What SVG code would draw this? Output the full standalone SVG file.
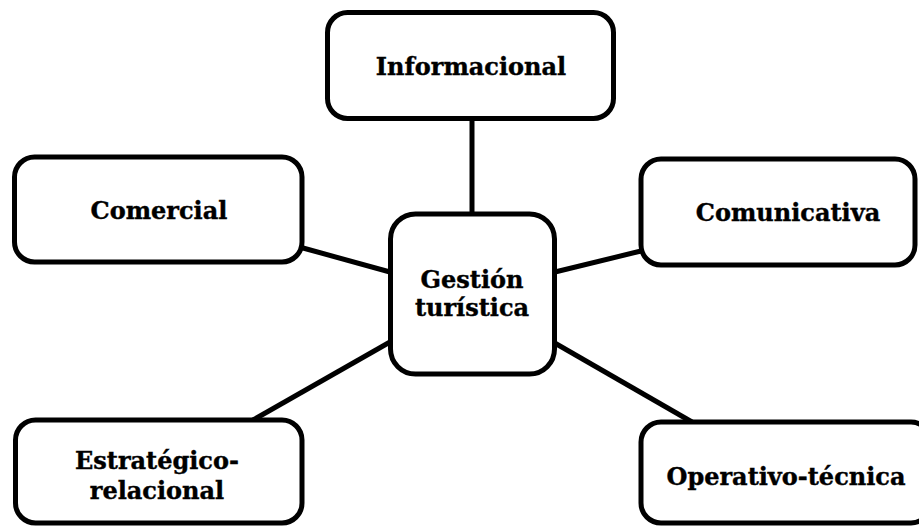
<svg xmlns="http://www.w3.org/2000/svg" width="919" height="527" viewBox="0 0 919 527">
<style>
.box{fill:#fff;stroke:#000;stroke-width:5}
.ln{stroke:#000;stroke-width:5;fill:none}
text{font-family:"DejaVu Serif","Liberation Serif",serif;font-weight:bold;font-size:24px;fill:#000;stroke:#000;stroke-width:0.4;text-anchor:middle}
</style>
<rect width="919" height="527" fill="#fff"/>
<g id="connectors">
<line class="ln" x1="472" y1="118" x2="472" y2="214"/>
<line class="ln" x1="303" y1="248" x2="390" y2="272"/>
<line class="ln" x1="555" y1="272" x2="641" y2="251"/>
<line class="ln" x1="390" y1="342" x2="253" y2="420"/>
<line class="ln" x1="553" y1="342" x2="692" y2="422"/>
</g>
<g id="informacional">
<rect class="box" x="327.5" y="12.5" width="286" height="106" rx="20"/>
<text x="471" y="75">Informacional</text>
</g>
<g id="comercial">
<rect class="box" x="14.5" y="157" width="287.5" height="105" rx="20"/>
<text x="159" y="219">Comercial</text>
</g>
<g id="comunicativa">
<rect class="box" x="641" y="159" width="274" height="106" rx="20"/>
<text x="788" y="221">Comunicativa</text>
</g>
<g id="gestion">
<rect class="box" x="390.5" y="214" width="164" height="160" rx="25"/>
<text x="472" y="288">Gestión</text>
<text x="472" y="316">turística</text>
</g>
<g id="estrategico">
<rect class="box" x="15.5" y="420" width="286.5" height="103" rx="20"/>
<text x="157" y="469">Estratégico-</text>
<text x="157" y="499">relacional</text>
</g>
<g id="operativo">
<rect class="box" x="641" y="422" width="290" height="101" rx="20"/>
<text x="786" y="485">Operativo-técnica</text>
</g>
</svg>
